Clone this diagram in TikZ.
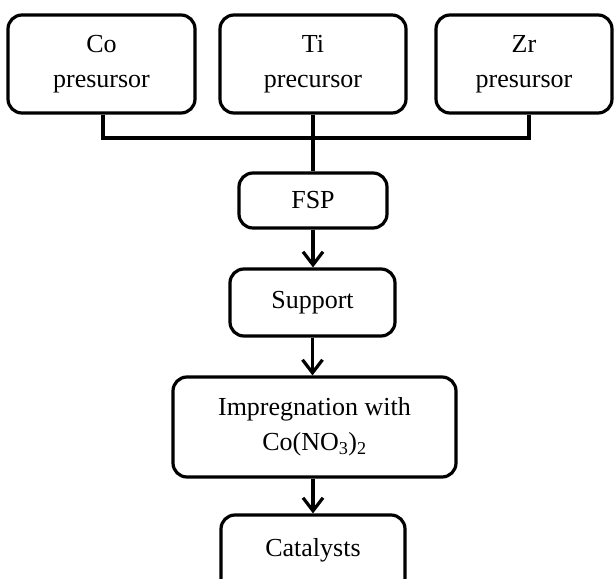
\documentclass[tikz,border=0pt]{standalone}
\usepackage{fontspec}
\setmainfont{Liberation Serif}
\usetikzlibrary{arrows.meta}
\begin{document}
\begin{tikzpicture}[x=1pt,y=-1pt,
  box/.style={draw=black, line width=3.2pt, rounded corners=14pt, align=center,
    inner sep=0pt, font=\fontsize{26}{35}\selectfont},
  conn/.style={line width=3.2pt},
  arr/.style={line width=3.2pt, -{Straight Barb[length=13pt,width=20pt,line width=3.2pt]}}]
\useasboundingbox (0,0) rectangle (614,579);
\node[box, minimum width=187pt, minimum height=98pt] (co) at (101.5,64) {Co\\presursor};
\node[box, minimum width=186pt, minimum height=98pt] (ti) at (313,64) {Ti\\precursor};
\node[box, minimum width=176pt, minimum height=98pt] (zr) at (524,64) {Zr\\presursor};
\coordinate (j) at (313,138);
\node[box, minimum width=148pt, minimum height=55pt] (fsp) at (313,200.5) {FSP};
\node[box, minimum width=165pt, minimum height=67pt] (sup) at (312.5,302.5) {\raisebox{3pt}{Support}};
\node[box, minimum width=283pt, minimum height=100pt] (imp) at (314.5,427) {Impregnation with\\Co(NO\textsubscript{3})\textsubscript{2}};
\node[box, minimum width=184pt, minimum height=80pt] (cat) at (313,555) {\raisebox{15pt}{Catalysts}};
\draw[conn] ([xshift=1.5pt]co.south) |- (j) -| ([xshift=5pt]zr.south);
\draw[conn] (ti.south) -- (fsp.north);
\draw[arr] (fsp.south) -- (fsp.south |- sup.north);
\draw[arr] (sup.south) -- (sup.south |- imp.north);
\draw[arr] (imp.south -| cat.north) -- (cat.north);
\end{tikzpicture}
\end{document}
